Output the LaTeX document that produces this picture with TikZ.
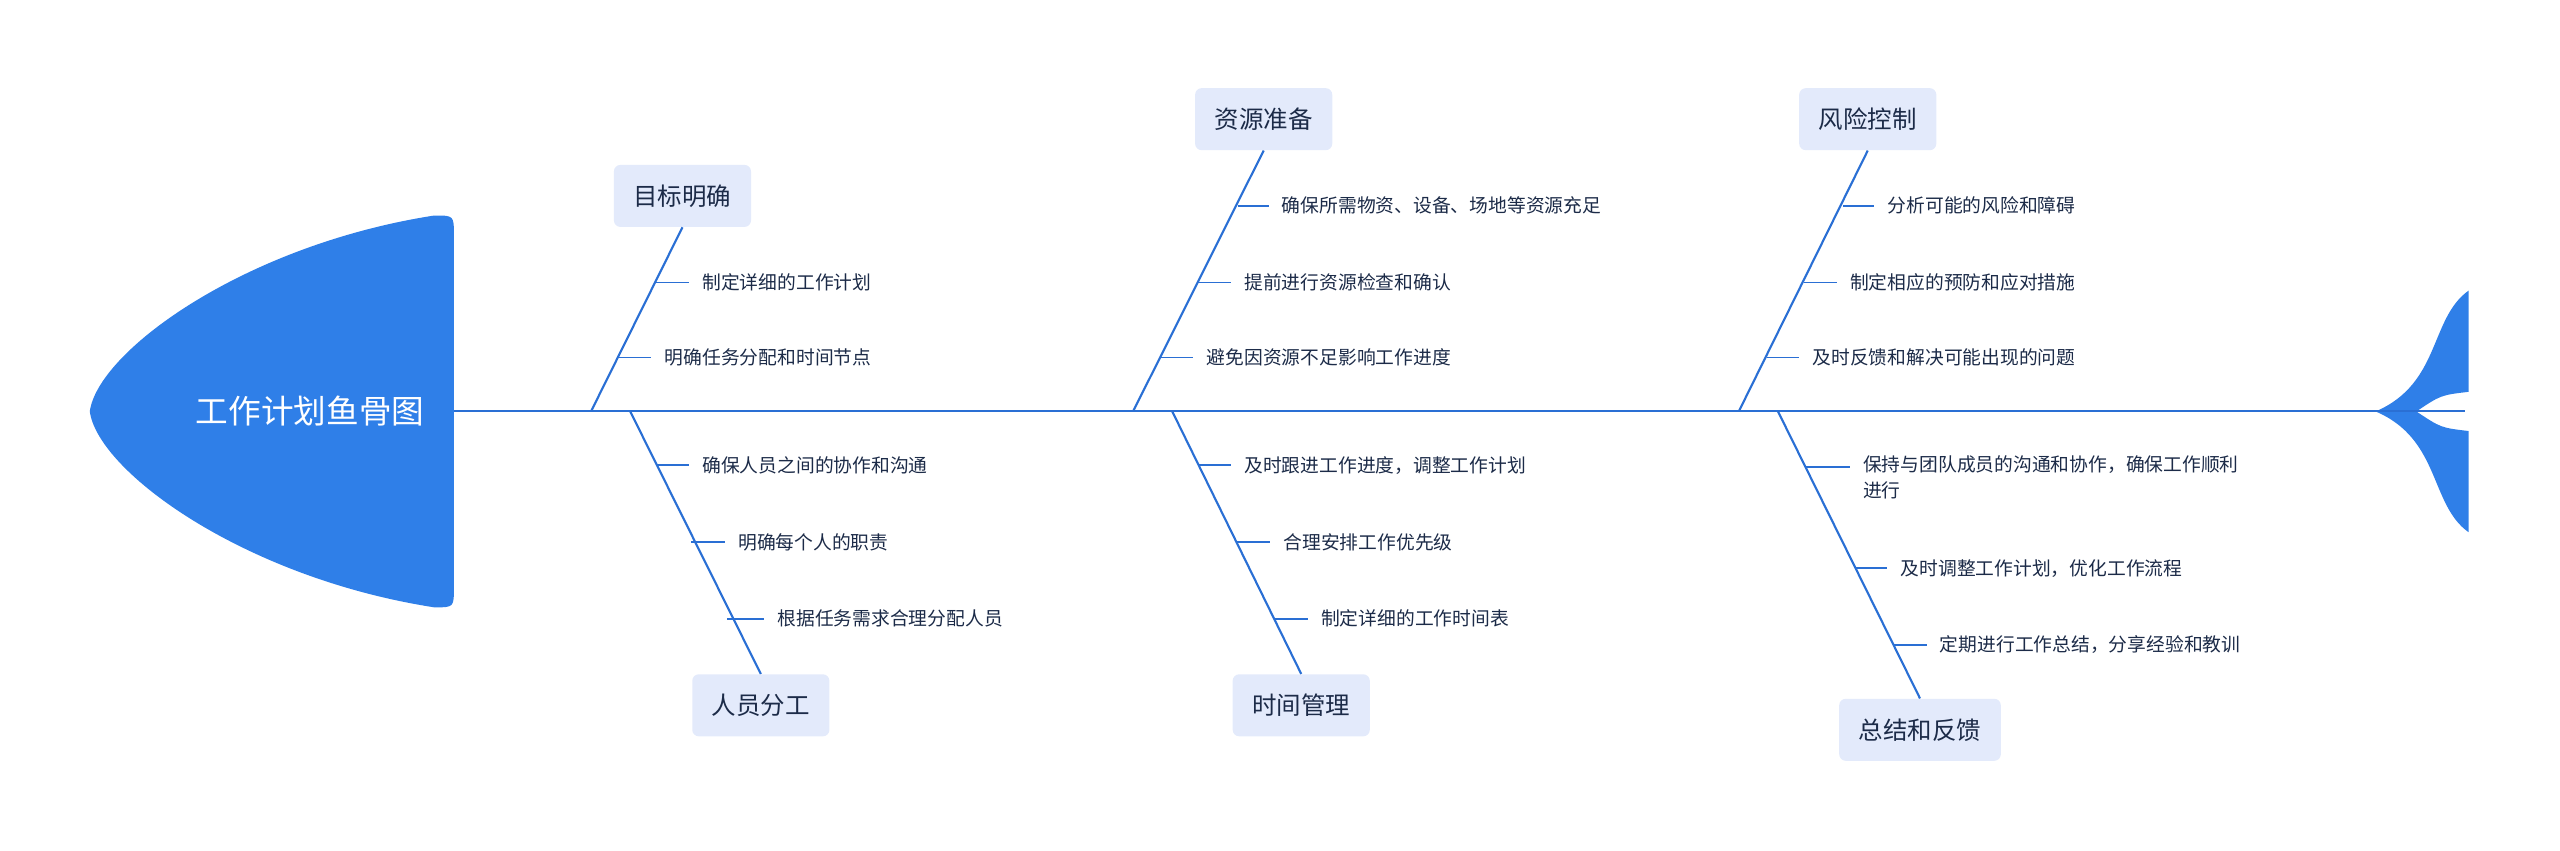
\documentclass[tikz,border=0pt]{standalone}
\usepackage{fontspec}
\newfontfamily\cjk{Noto Sans CJK SC}
\definecolor{fishblue}{HTML}{2F7FE8}
\definecolor{bone}{HTML}{2A6FD4}
\definecolor{boxfill}{HTML}{E3EAFB}
\definecolor{txt}{HTML}{1C2B48}
\begin{document}
\begin{tikzpicture}[x=1pt,y=-1pt,
  hdr/.style={fill=boxfill,rounded corners=4pt,minimum height=38pt,text=txt,font=\cjk\fontsize{15}{18}\selectfont,inner xsep=12pt},
  sub/.style={anchor=west,text=txt,font=\cjk\fontsize{11.5}{14}\selectfont,inner sep=0pt},
  ln/.style={draw=bone,line width=1.3pt},
  tk/.style={draw=bone,line width=1.1pt,shorten >=8pt}]
\useasboundingbox (0,0) rectangle (1568,521);
% head
\fill[fishblue] (266,132) .. controls (150,150) and (60,215) .. (55,252) .. controls (60,289) and (150,354) .. (266,372) .. controls (278,372) .. (278,360) -- (278,144) .. controls (278,132) .. (266,132);
\node[text=white,font=\cjk\fontsize{20}{24}\selectfont] (title) at (190,252) {工作计划鱼骨图};
% tail
\fill[fishblue] (1455,252) .. controls (1495,235) and (1488,195) .. (1512,178) -- (1512,240) .. controls (1495,242) .. (1480,252) .. controls (1495,262) .. (1512,264) -- (1512,326) .. controls (1488,309) and (1495,269) .. (1455,252);
% spine
\coordinate (s0) at (278,252);
\coordinate (s1) at (1510,252);
\draw[ln] (s0) -- (s1);
% headers
\node[hdr] (h1) at (418,120) {目标明确};
\node[hdr] (h2) at (466,432) {人员分工};
\node[hdr] (h3) at (774,73) {资源准备};
\node[hdr] (h4) at (797,432) {时间管理};
\node[hdr] (h5) at (1144,73) {风险控制};
\node[hdr] (h6) at (1176,447) {总结和反馈};
% bones
\coordinate (b1) at (362,252); \coordinate (b2) at (386,252);
\coordinate (b3) at (694,252); \coordinate (b4) at (718,252);
\coordinate (b5) at (1065,252); \coordinate (b6) at (1089,252);
\draw[ln] (b1) -- (h1.south);
\draw[ln] (b2) -- (h2.north);
\draw[ln] (b3) -- (h3.south);
\draw[ln] (b4) -- (h4.north);
\draw[ln] (b5) -- (h5.south);
\draw[ln] (b6) -- (h6.north);
% sub items
\node[sub] (t11) at (430,173) {制定详细的工作计划};
\node[sub] (t12) at (407,219) {明确任务分配和时间节点};
\coordinate (c11) at (401.5,173); \coordinate (c12) at (378.5,219);
\draw[tk] (c11) -- (t11.west); \draw[tk] (c12) -- (t12.west);

\node[sub] (t21) at (430,285) {确保人员之间的协作和沟通};
\node[sub] (t22) at (452,332) {明确每个人的职责};
\node[sub] (t23) at (476,379) {根据任务需求合理分配人员};
\coordinate (c21) at (401.5,285); \coordinate (c22) at (423.5,332); \coordinate (c23) at (445.5,379);
\draw[tk] (c21) -- (t21.west); \draw[tk] (c22) -- (t22.west); \draw[tk] (c23) -- (t23.west);

\node[sub] (t31) at (785,126) {确保所需物资、设备、场地等资源充足};
\node[sub] (t32) at (762,173) {提前进行资源检查和确认};
\node[sub] (t33) at (739,219) {避免因资源不足影响工作进度};
\coordinate (c31) at (758,126); \coordinate (c32) at (734,173); \coordinate (c33) at (711,219);
\draw[tk] (c31) -- (t31.west); \draw[tk] (c32) -- (t32.west); \draw[tk] (c33) -- (t33.west);

\node[sub] (t41) at (762,285) {及时跟进工作进度，调整工作计划};
\node[sub] (t42) at (786,332) {合理安排工作优先级};
\node[sub] (t43) at (809,379) {制定详细的工作时间表};
\coordinate (c41) at (734,285); \coordinate (c42) at (757.5,332); \coordinate (c43) at (781,379);
\draw[tk] (c41) -- (t41.west); \draw[tk] (c42) -- (t42.west); \draw[tk] (c43) -- (t43.west);

\node[sub] (t51) at (1156,126) {分析可能的风险和障碍};
\node[sub] (t52) at (1133,173) {制定相应的预防和应对措施};
\node[sub] (t53) at (1110,219) {及时反馈和解决可能出现的问题};
\coordinate (c51) at (1129,126); \coordinate (c52) at (1105,173); \coordinate (c53) at (1082,219);
\draw[tk] (c51) -- (t51.west); \draw[tk] (c52) -- (t52.west); \draw[tk] (c53) -- (t53.west);

\node[sub,anchor=north west,align=left,font=\cjk\fontsize{11.5}{16}\selectfont] (t61) at (1141,279) {保持与团队成员的沟通和协作，确保工作顺利\\进行};
\node[sub] (t62) at (1164,348) {及时调整工作计划，优化工作流程};
\node[sub] (t63) at (1188,395) {定期进行工作总结，分享经验和教训};
\coordinate (c61) at (1106,286); \coordinate (c62) at (1136,348); \coordinate (c63) at (1160,395);
\coordinate (e61) at (1141,286);
\draw[tk] (c61) -- (e61); \draw[tk] (c62) -- (t62.west); \draw[tk] (c63) -- (t63.west);
\end{tikzpicture}
\end{document}
